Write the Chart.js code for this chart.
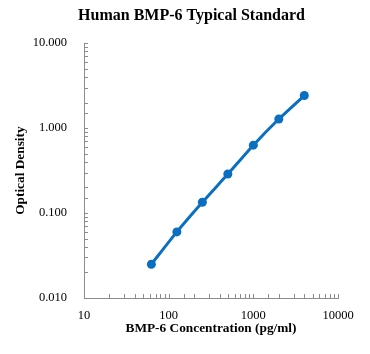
<!DOCTYPE html>
<html>
<head>
<meta charset="utf-8">
<script src="https://cdn.jsdelivr.net/npm/chart.js@4/dist/chart.umd.min.js"></script>
<style>
html,body{margin:0;padding:0;background:#fff;}
#wrap{width:370px;height:354px;}
</style>
</head>
<body>
<div id="wrap"><canvas id="c" width="370" height="354"></canvas></div>
<script>
const concentrations = [62.5, 125, 250, 500, 1000, 2000, 4000];
const opticalDensity = [0.025, 0.060, 0.134, 0.288, 0.63, 1.28, 2.42];
const xTickLabels = [10, 100, 1000, 10000];
const yTickLabels = [0.01, 0.1, 1, 10];

const chartTitle = 'Human BMP-6 Typical Standard';
const xTitle = 'BMP-6 Concentration (pg/ml)';
const yTitle = 'Optical Density';

const serif = '"Liberation Serif", "Times New Roman", serif';
const axisGray = '#8c8c8c';
const blue = '#0B6FC1';

function isDecade(v, list) {
  return list.some(d => Math.abs(v - d) / d < 1e-6);
}

const innerTicks = {
  id: 'innerTicks',
  afterDraw(chart) {
    const ctx = chart.ctx;
    const xs = chart.scales.x, ys = chart.scales.y;
    ctx.save();
    ctx.strokeStyle = axisGray;
    ctx.lineWidth = 1;
    ctx.beginPath();
    xs.ticks.forEach(t => {
      const px = Math.round(xs.getPixelForValue(t.value)) + 0.5;
      if (px < xs.left - 1 || px > xs.right + 1) return;
      ctx.moveTo(px, ys.bottom);
      ctx.lineTo(px, ys.bottom - 4);
    });
    ys.ticks.forEach(t => {
      const py = Math.round(ys.getPixelForValue(t.value)) + 0.5;
      if (py < ys.top - 1 || py > ys.bottom + 1) return;
      ctx.moveTo(xs.left, py);
      ctx.lineTo(xs.left + 4, py);
    });
    ctx.stroke();
    ctx.restore();
  }
};

new Chart(document.getElementById('c'), {
  type: 'scatter',
  data: {
    datasets: [{
      data: concentrations.map((x, i) => ({x: x, y: opticalDensity[i]})),
      showLine: true,
      borderColor: blue,
      backgroundColor: blue,
      borderWidth: 3,
      tension: 0.2,
      pointRadius: 4.5,
      pointHoverRadius: 4.5,
      pointBorderWidth: 0,
      clip: false
    }]
  },
  options: {
    responsive: false,
    animation: false,
    devicePixelRatio: 1,
    layout: {padding: {left: 13, right: 0, top: 0, bottom: 0}},
    plugins: {
      legend: {display: false},
      tooltip: {enabled: false},
      title: {
        display: true,
        text: chartTitle,
        color: '#000',
        font: {family: serif, size: 16, weight: 'bold'},
        padding: {top: 6, bottom: 18}
      }
    },
    scales: {
      x: {
        type: 'logarithmic',
        min: 10, max: 10000,
        grid: {display: false, drawTicks: false},
        border: {display: true, color: axisGray, width: 1},
        ticks: {
          autoSkip: false, maxRotation: 0, padding: 10,
          color: '#000',
          font: {family: serif, size: 12.5},
          callback: v => isDecade(v, xTickLabels) ? String(Math.round(v)) : ''
        },
        title: {
          display: true, text: xTitle, color: '#000',
          font: {family: serif, size: 13.33, weight: 'bold'},
          padding: {top: 0, bottom: 17}
        },
        afterFit: s => { s.height = 56; }
      },
      y: {
        type: 'logarithmic',
        min: 0.01, max: 10,
        grid: {display: false, drawTicks: false},
        border: {display: true, color: axisGray, width: 1},
        ticks: {
          autoSkip: false, padding: 17,
          color: '#000',
          font: {family: serif, size: 12.5},
          callback: v => isDecade(v, yTickLabels) ? Number(v).toFixed(3) : ''
        },
        title: {
          display: true, text: yTitle, color: '#000',
          font: {family: serif, size: 13.33, weight: 'bold'},
          padding: {top: 0, bottom: 0}
        },
        afterFit: s => { s.width = 71; }
      },
      spacer: {
        type: 'linear',
        position: 'right',
        display: true,
        grid: {display: false, drawTicks: false},
        border: {display: false},
        ticks: {display: false},
        title: {display: false},
        afterFit: s => { s.width = 32; }
      }
    }
  },
  plugins: [innerTicks]
});
</script>
</body>
</html>
